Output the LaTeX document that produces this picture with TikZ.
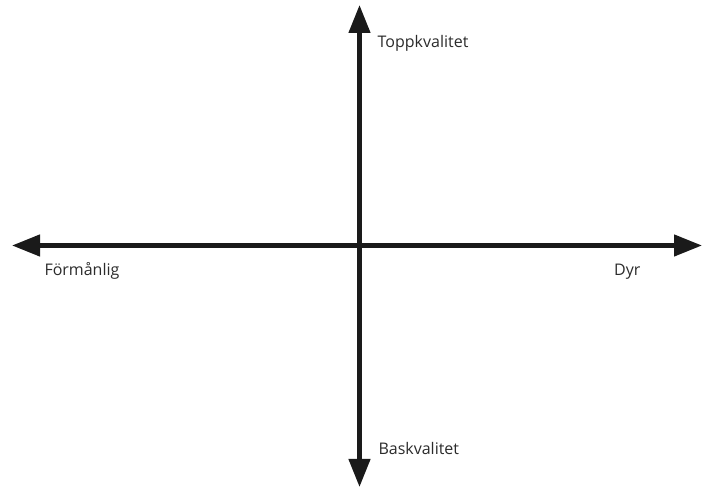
\documentclass[tikz,border=0pt]{standalone}
\usepackage{fontspec}
\setmainfont{Open Sans}
\usetikzlibrary{arrows.meta}
\definecolor{axiscol}{HTML}{1A1A1A}
\definecolor{textcol}{HTML}{2B2B2B}
\tikzset{
  axis/.style={draw=axiscol, line width=4.5pt, {Triangle[length=28pt,width=21pt]}-{Triangle[length=28pt,width=21pt]}},
  lbl/.style={anchor=base west, inner sep=0pt, text=textcol, font=\fontsize{16}{19}\selectfont}
}
\begin{document}
\begin{tikzpicture}[x=1pt,y=1pt]
\useasboundingbox (0,0) rectangle (702,489);
\coordinate (L) at (12,243.5);
\coordinate (R) at (702,243.5);
\coordinate (T) at (359.5,484);
\coordinate (B) at (359.5,2);
\draw[axis] (L) -- (R);
\draw[axis] (B) -- (T);
\node[lbl] (top) at (377.5,441.7) {Toppkvalitet};
\node[lbl] (bot) at (378.3,34) {Baskvalitet};
\node[lbl] (left) at (44.3,213.5) {Förmånlig};
\node[lbl] (right) at (614,213.5) {Dyr};
\end{tikzpicture}
\end{document}
